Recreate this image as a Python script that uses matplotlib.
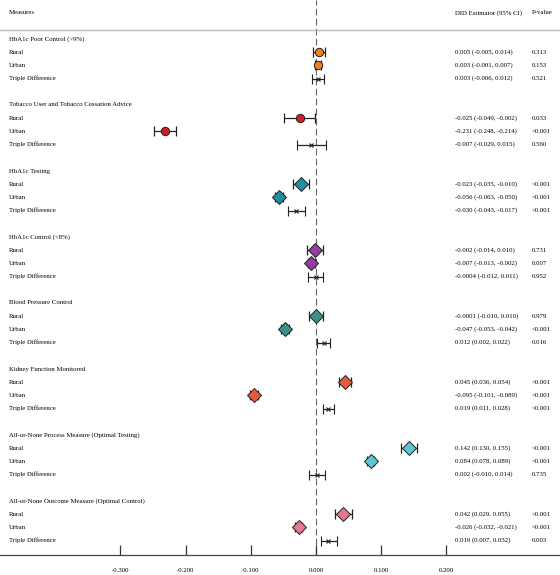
import numpy as np
import matplotlib
matplotlib.use('Agg')
import matplotlib.pyplot as plt
from matplotlib.transforms import blended_transform_factory

plt.rcParams['font.family'] = ['Liberation Serif', 'DejaVu Serif']

groups = ['HbA1c Poor Control (>9%)', 'Tobacco User and Tobacco Cessation Advice',
          'HbA1c Testing', 'HbA1c Control (<8%)', 'Blood Pressure Control',
          'Kidney Function Monitored', 'All-or-None Process Measure (Optimal Testing)',
          'All-or-None Outcome Measure (Optimal Control)']
subrows = ['Rural', 'Urban', 'Triple Difference']

est = [[0.005, 0.003, 0.003], [-0.025, -0.231, -0.007], [-0.023, -0.056, -0.030],
       [-0.002, -0.007, -0.0004], [-0.0001, -0.047, 0.012], [0.045, -0.095, 0.019],
       [0.142, 0.084, 0.002], [0.042, -0.026, 0.019]]
lo = [[-0.005, -0.001, -0.006], [-0.049, -0.248, -0.029], [-0.035, -0.063, -0.043],
      [-0.014, -0.013, -0.012], [-0.010, -0.053, 0.002], [0.036, -0.101, 0.011],
      [0.130, 0.078, -0.010], [0.029, -0.032, 0.007]]
hi = [[0.014, 0.007, 0.012], [-0.002, -0.214, 0.015], [-0.010, -0.050, -0.017],
      [0.010, -0.002, 0.011], [0.010, -0.042, 0.022], [0.054, -0.089, 0.028],
      [0.155, 0.089, 0.014], [0.055, -0.021, 0.032]]
est_txt = [['0.005 (-0.005, 0.014)', '0.003 (-0.001, 0.007)', '0.003 (-0.006, 0.012)'],
           ['-0.025 (-0.049, -0.002)', '-0.231 (-0.248, -0.214)', '-0.007 (-0.029, 0.015)'],
           ['-0.023 (-0.035, -0.010)', '-0.056 (-0.063, -0.050)', '-0.030 (-0.043, -0.017)'],
           ['-0.002 (-0.014, 0.010)', '-0.007 (-0.013, -0.002)', '-0.0004 (-0.012, 0.011)'],
           ['-0.0001 (-0.010, 0.010)', '-0.047 (-0.053, -0.042)', '0.012 (0.002, 0.022)'],
           ['0.045 (0.036, 0.054)', '-0.095 (-0.101, -0.089)', '0.019 (0.011, 0.028)'],
           ['0.142 (0.130, 0.155)', '0.084 (0.078, 0.089)', '0.002 (-0.010, 0.014)'],
           ['0.042 (0.029, 0.055)', '-0.026 (-0.032, -0.021)', '0.019 (0.007, 0.032)']]
pvals = [['0.313', '0.153', '0.521'], ['0.033', '<0.001', '0.560'],
         ['<0.001', '<0.001', '<0.001'], ['0.731', '0.007', '0.952'],
         ['0.979', '<0.001', '0.016'], ['<0.001', '<0.001', '<0.001'],
         ['<0.001', '<0.001', '0.735'], ['<0.001', '<0.001', '0.003']]

colors = ['#F07F1E', '#C8202A', '#1F8FA0', '#8E3FA0', '#3E8E8E', '#E85A3A', '#5CC5CF', '#E8768F']
shapes = ['o', 'o', 'D', 'D', 'D', 'D', 'D', 'D']

fs = 4.9
fig = plt.figure(figsize=(5.6, 5.75), dpi=100)
ax = fig.add_axes([0, 20 / 575, 1, 555 / 575])
ax.set_xlim(-316 / 652, 244 / 652)
ax.set_ylim((555 - 39) / 13.2, -39 / 13.2)

tr = blended_transform_factory(fig.transFigure, ax.transData)

ax.axvline(0, color='#666666', lw=0.8, ls=(0, (6, 3)), zorder=1)

ax.text(9 / 560, -1.97, 'Measures', transform=tr, fontsize=fs, va='center')
ax.text(455 / 560, -1.97, 'DID Estimator (95% CI)', transform=tr, fontsize=fs, va='center')
ax.text(532 / 560, -1.97, 'P-value', transform=tr, fontsize=fs, va='center')
ax.plot([0, 1], [-0.68, -0.68], transform=tr, color='#bbbbbb', lw=1.0, clip_on=False)

for g, name in enumerate(groups):
    r0 = g * 5
    ax.text(9 / 560, r0, name, transform=tr, fontsize=fs, va='center')
    for k in range(3):
        r = r0 + 1 + k
        ax.text(9 / 560, r, subrows[k], transform=tr, fontsize=fs, va='center')
        ax.text(455 / 560, r, est_txt[g][k], transform=tr, fontsize=fs, va='center')
        ax.text(532 / 560, r, pvals[g][k], transform=tr, fontsize=fs, va='center')
        e = est[g][k]
        xerr = [[e - lo[g][k]], [hi[g][k] - e]]
        if k < 2:
            ms = 6 if shapes[g] == 'o' else 7
            ax.errorbar(e, r, xerr=xerr, fmt='none', ecolor='#222222', elinewidth=0.9,
                        capsize=3.5, capthick=0.9, zorder=2)
            ax.plot(e, r, marker=shapes[g], ms=ms, mfc=colors[g], mec='#222222',
                    mew=0.7, ls='none', zorder=3)
        else:
            ax.errorbar(e, r, xerr=xerr, fmt='x', color='#222222', ms=2.5, mew=0.8,
                        elinewidth=0.9, capsize=3.5, capthick=0.9, zorder=2)

ax.set_xticks([-0.3, -0.2, -0.1, 0.0, 0.1, 0.2])
ax.set_xticklabels(['-0.300', '-0.200', '-0.100', '0.000', '0.100', '0.200'], fontsize=fs)
ax.tick_params(axis='x', direction='in', length=7, width=0.9, color='#333333', pad=9)
ax.set_yticks([])
for s in ['top', 'left', 'right']:
    ax.spines[s].set_visible(False)
ax.spines['bottom'].set_color('#444444')
ax.spines['bottom'].set_linewidth(0.9)
ax.patch.set_alpha(0)

fig.savefig('out.png', dpi=100)
